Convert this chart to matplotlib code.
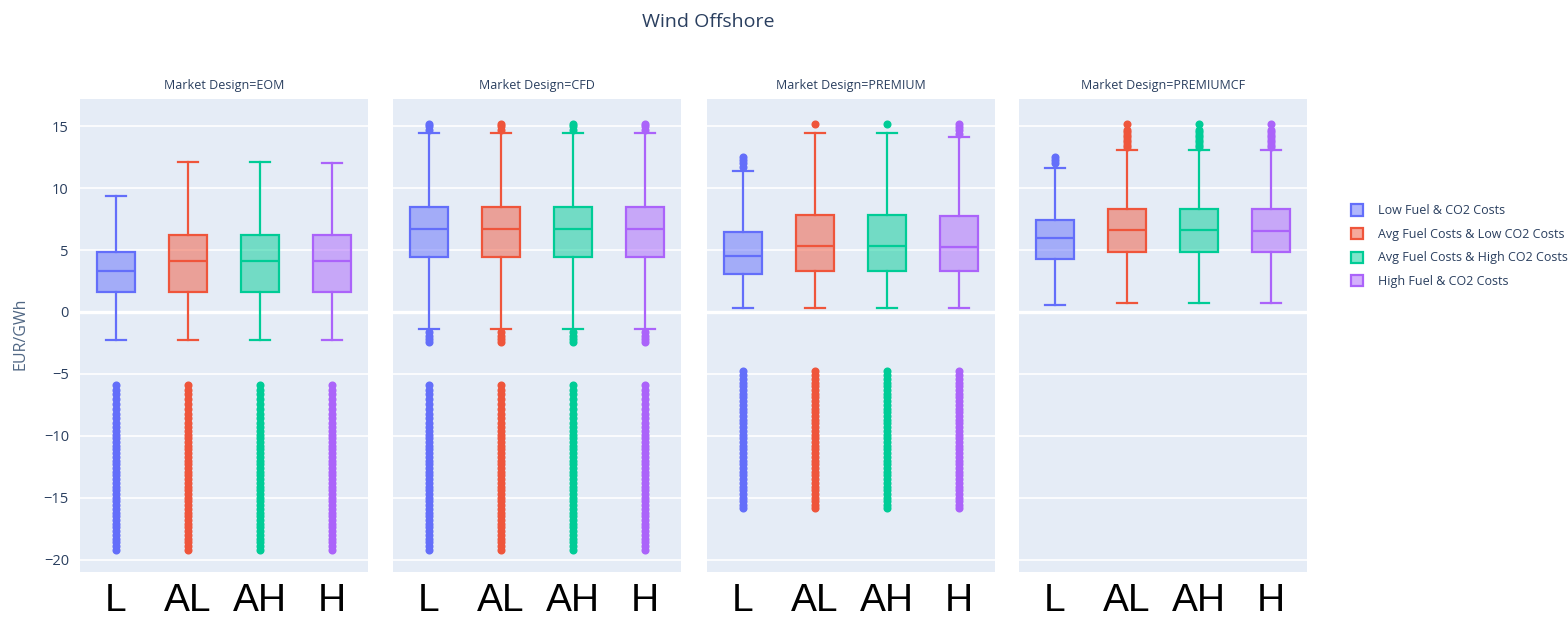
# Wind Offshore: box plots of EUR/GWh per market design and fuel/CO2 scenario
import matplotlib.pyplot as plt
from matplotlib.patches import Patch
from matplotlib.colors import to_rgba

designs = ['EOM', 'CFD', 'PREMIUM', 'PREMIUMCF']
scenarios = ['Low Fuel & CO2 Costs', 'Avg Fuel Costs & Low CO2 Costs',
             'Avg Fuel Costs & High CO2 Costs', 'High Fuel & CO2 Costs']
short_labels = ['L', 'AL', 'AH', 'H']
colors = ['#636EFA', '#EF553B', '#00CC96', '#AB63FA']

# box statistics, one list per design (order L, AL, AH, H)
eom_whislo = [-2.3, -2.3, -2.3, -2.3]
eom_q1 = [1.6, 1.6, 1.6, 1.6]
eom_med = [3.3, 4.1, 4.1, 4.1]
eom_q3 = [4.85, 6.2, 6.2, 6.2]
eom_whishi = [9.35, 12.1, 12.1, 12.0]

cfd_whislo = [-1.4, -1.4, -1.4, -1.4]
cfd_q1 = [4.45, 4.45, 4.45, 4.45]
cfd_med = [6.7, 6.7, 6.7, 6.7]
cfd_q3 = [8.5, 8.5, 8.5, 8.5]
cfd_whishi = [14.45, 14.45, 14.45, 14.45]

prem_whislo = [0.35, 0.35, 0.35, 0.35]
prem_q1 = [3.1, 3.3, 3.3, 3.3]
prem_med = [4.5, 5.3, 5.3, 5.25]
prem_q3 = [6.45, 7.8, 7.8, 7.75]
prem_whishi = [11.4, 14.45, 14.45, 14.1]

premcf_whislo = [0.6, 0.7, 0.7, 0.7]
premcf_q1 = [4.3, 4.85, 4.85, 4.85]
premcf_med = [5.95, 6.6, 6.6, 6.55]
premcf_q3 = [7.4, 8.3, 8.35, 8.3]
premcf_whishi = [11.65, 13.1, 13.1, 13.1]

# outliers
deep_outliers = [-5.9, -6.3, -6.6, -7.0, -7.4, -7.8, -8.2, -8.6, -9.0, -9.3,
                 -9.6, -9.9, -10.2, -10.5, -10.8, -11.1, -11.4, -11.7, -12.0,
                 -12.3, -12.6, -12.9, -13.2, -13.5, -13.8, -14.1, -14.4, -14.7,
                 -15.0, -15.3, -15.6, -15.9, -16.2, -16.5, -16.8, -17.1, -17.4,
                 -17.7, -18.0, -18.3, -18.6, -18.9, -19.2]
cfd_near_low = [-1.6, -1.9, -2.2, -2.4]
cfd_high = [14.7, 15.0, 15.2]
prem_deep = [-4.75, -5.1, -5.4, -5.7, -6.0, -6.3, -6.6, -6.9, -7.2, -7.5,
             -7.8, -8.1, -8.4, -8.7, -9.0, -9.3, -9.6, -9.9, -10.2, -10.5,
             -10.8, -11.1, -11.4, -11.7, -12.0, -12.3, -12.6, -12.9, -13.2,
             -13.5, -13.8, -14.1, -14.4, -14.7, -15.0, -15.3, -15.6, -15.85]
prem_high_l = [11.7, 12.0, 12.3, 12.5]
prem_high_a = [15.2]
prem_high_h = [14.4, 14.7, 14.9, 15.2]
premcf_high_l = [12.0, 12.3, 12.5]
premcf_high = [13.3, 13.5, 13.7, 13.9, 14.1, 14.3, 14.5, 14.7, 15.2]

eom_fliers = [deep_outliers, deep_outliers, deep_outliers, deep_outliers]
cfd_fliers = [cfd_high + cfd_near_low + deep_outliers] * 4
prem_fliers = [prem_high_l + prem_deep, prem_high_a + prem_deep,
               prem_high_a + prem_deep, prem_high_h + prem_deep]
premcf_fliers = [premcf_high_l, premcf_high, premcf_high, premcf_high]

panels = [
    (eom_whislo, eom_q1, eom_med, eom_q3, eom_whishi, eom_fliers),
    (cfd_whislo, cfd_q1, cfd_med, cfd_q3, cfd_whishi, cfd_fliers),
    (prem_whislo, prem_q1, prem_med, prem_q3, prem_whishi, prem_fliers),
    (premcf_whislo, premcf_q1, premcf_med, premcf_q3, premcf_whishi, premcf_fliers),
]

plt.rcParams['font.family'] = ['Open Sans', 'DejaVu Sans']
text_col = '#2a3f5f'
bg = '#E5ECF6'

W, H = 1568, 619
fig = plt.figure(figsize=(W / 100, H / 100), dpi=100)

lefts = [80, 393, 707, 1019]
pw = 288
top, bottom = 99, 572

for k, (left_px, design, stats) in enumerate(zip(lefts, designs, panels)):
    ax = fig.add_axes([left_px / W, 1 - bottom / H, pw / W, (bottom - top) / H])
    ax.set_facecolor(bg)
    for s in ax.spines.values():
        s.set_visible(False)
    ax.set_ylim(-21.0, 17.2)
    ax.set_xlim(-0.5, 3.5)
    ax.set_yticks([-20, -15, -10, -5, 0, 5, 10, 15])
    ax.grid(axis='y', color='white', linewidth=1.2)
    ax.axhline(0, color='white', linewidth=2.4, zorder=0.5)
    ax.set_axisbelow(True)

    whislo, q1, med, q3, whishi, fliers = stats
    for i in range(4):
        st = [dict(whislo=whislo[i], q1=q1[i], med=med[i], q3=q3[i],
                   whishi=whishi[i], fliers=fliers[i])]
        c = colors[i]
        ax.bxp(st, positions=[i], widths=0.54, capwidths=[0.27],
               patch_artist=True, showfliers=True,
               boxprops=dict(facecolor=to_rgba(c, 0.5), edgecolor=c, linewidth=1.6),
               medianprops=dict(color=c, linewidth=1.6),
               whiskerprops=dict(color=c, linewidth=1.6),
               capprops=dict(color=c, linewidth=1.6),
               flierprops=dict(marker='o', markerfacecolor=c, markeredgecolor=c,
                               markersize=4.8, linestyle='none'))

    ax.set_xticks(range(4))
    ax.set_xticklabels(short_labels, fontsize=28, color='black',
                       family=['Liberation Sans'])
    ax.tick_params(axis='x', length=0, pad=8)
    if k == 0:
        ax.tick_params(axis='y', length=0, labelsize=10.5, labelcolor=text_col, pad=8)
        ax.set_yticklabels(['\u221220', '\u221215', '\u221210', '\u22125',
                            '0', '5', '10', '15'])
    else:
        ax.tick_params(axis='y', length=0, labelleft=False)

    ax.text(0.5, 1 + 14 / (bottom - top), 'Market Design=' + design,
            transform=ax.transAxes, ha='center', va='center',
            fontsize=9, color=text_col)

fig.text(708 / W, 1 - 22 / H, 'Wind Offshore', ha='center', va='center',
         fontsize=14, color=text_col)
fig.text(20 / W, 1 - 334 / H, 'EUR/GWh', rotation=90, ha='center', va='center',
         fontsize=11.5, color='#506784')

handles = [Patch(facecolor=to_rgba(c, 0.5), edgecolor=c, linewidth=1.6)
           for c in colors]
fig.legend(handles, scenarios, loc='upper left',
           bbox_to_anchor=(1340 / W, 1 - 193 / H), frameon=False,
           fontsize=9, handlelength=0.9, handleheight=1.0, handletextpad=1.2,
           labelspacing=0.85, labelcolor=text_col)

fig.savefig('out.png', dpi=100)
